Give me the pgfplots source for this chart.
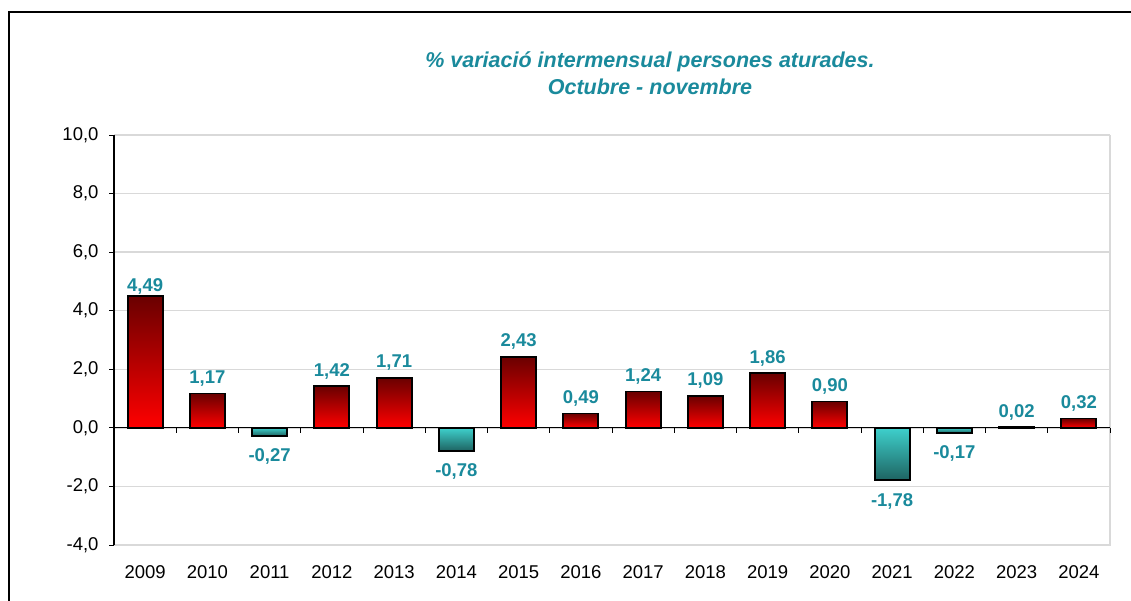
\documentclass[border=0pt]{standalone}
\usepackage{pgfplots}
\pgfplotsset{compat=1.18}
\usepackage{fontspec}
\setmainfont{Liberation Sans}
\definecolor{lab}{HTML}{1A8A9C}
\definecolor{gridc}{HTML}{D9D9D9}
\definecolor{ptop}{HTML}{6A0000}
\definecolor{pbot}{HTML}{FF0000}
\definecolor{ntop}{HTML}{3ED0CC}
\definecolor{nbot}{HTML}{1E6462}
\pgfplotsset{
  posbar/.style={bar shift=0pt, draw=black, line width=1.8bp, top color=ptop, bottom color=pbot, every node near coord/.append style={yshift=3bp}},
  negbar/.style={bar shift=0pt, draw=black, line width=1.8bp, top color=ntop, bottom color=nbot, every node near coord/.append style={yshift=-9bp}},
}
\begin{document}
\begin{tikzpicture}
\useasboundingbox (0,0) rectangle (1131bp,601bp);
\draw[line width=2.5bp] (9bp,0) -- (9bp,589bp) -- (1131bp,589bp);
\node[font=\fontsize{21.5bp}{27bp}\selectfont\bfseries\itshape, text=lab, align=center] at (650bp,528bp) {\% variació intermensual persones aturades.\\Octubre - novembre};
\begin{axis}[
  at={(114bp,56bp)}, anchor=south west, scale only axis,
  width=996bp, height=410bp,
  xmin=-0.5, xmax=15.5, ymin=-4, ymax=10,
  axis line style={draw=none},
  xtick={0,...,15},
  xticklabels={2009,2010,2011,2012,2013,2014,2015,2016,2017,2018,2019,2020,2021,2022,2023,2024},
  x tick style={draw=none},
  ytick={-4,-2,0,2,4,6,8,10},
  y tick style={black, line width=0.8bp},
  ytick pos=left, xtick pos=bottom,
  tick align=outside, major tick length=5bp,
  ymajorgrids, xmajorgrids=false, grid style={draw=gridc, line width=1.3bp},
  y tick label style={/pgf/number format/fixed, /pgf/number format/fixed zerofill, /pgf/number format/precision=1, /pgf/number format/use comma, /pgf/number format/assume math mode=true, font=\fontsize{18.5bp}{22bp}\selectfont, xshift=-7bp},
  x tick label style={font=\fontsize{18.5bp}{22bp}\selectfont, yshift=-12bp},
  ybar, bar width=35bp,
  nodes near coords,
  every node near coord/.append style={font=\fontsize{18.5bp}{22bp}\selectfont\bfseries, text=lab, /pgf/number format/fixed, /pgf/number format/fixed zerofill, /pgf/number format/precision=2, /pgf/number format/use comma, /pgf/number format/assume math mode=true},
  clip=false,
]
\draw[gridc, line width=2.5bp] (axis cs:15.5,10) -- (axis cs:15.5,-4) -- (axis cs:-0.5,-4);
\addplot[posbar, every node near coord/.append style={yshift=-5bp}] coordinates {(0,4.49)};
\addplot[posbar] coordinates {(1,1.17)};
\addplot[negbar] coordinates {(2,-0.27)};
\addplot[posbar] coordinates {(3,1.42)};
\addplot[posbar] coordinates {(4,1.71)};
\addplot[negbar] coordinates {(5,-0.78)};
\addplot[posbar] coordinates {(6,2.43)};
\addplot[posbar] coordinates {(7,0.49)};
\addplot[posbar] coordinates {(8,1.24)};
\addplot[posbar] coordinates {(9,1.09)};
\addplot[posbar] coordinates {(10,1.86)};
\addplot[posbar] coordinates {(11,0.90)};
\addplot[negbar] coordinates {(12,-1.78)};
\addplot[negbar] coordinates {(13,-0.17)};
\addplot[posbar] coordinates {(14,0.02)};
\addplot[posbar] coordinates {(15,0.32)};
\draw[black, line width=1bp] (axis cs:-0.5,0) -- (axis cs:15.5,0);
\pgfplotsinvokeforeach{0.5,1.5,2.5,3.5,4.5,5.5,6.5,7.5,8.5,9.5,10.5,11.5,12.5,13.5,14.5,15.5}{\draw[black, line width=1bp] (axis cs:#1,0) -- ([yshift=-5bp]axis cs:#1,0);}
\draw[black, line width=1.2bp] (axis cs:-0.5,-4) -- (axis cs:-0.5,10);
\end{axis}
\end{tikzpicture}
\end{document}
